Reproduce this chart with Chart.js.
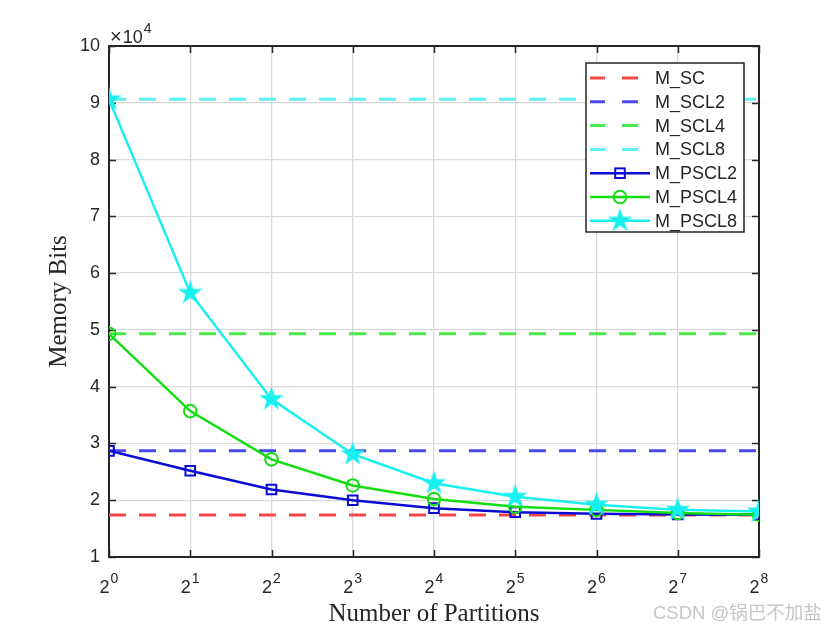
<!DOCTYPE html>
<html>
<head>
<meta charset="utf-8">
<script src="https://cdn.jsdelivr.net/npm/chart.js@4/dist/chart.umd.min.js"></script>
<style>
html,body{margin:0;padding:0;background:#fff;}
#c{display:block;}
</style>
</head>
<body>
<canvas id="c" width="840" height="630"></canvas>
<script>
// ---- data ----
const exponents = [0, 1, 2, 3, 4, 5, 6, 7, 8];
const xTickBase = '2';
const M_SC = 17400;
const M_SCL2 = 28700;
const M_SCL4 = 49300;
const M_SCL8 = 90600;
const M_PSCL2 = [28700, 25200, 21900, 20000, 18600, 17900, 17600, 17500, 17450];
const M_PSCL4 = [49300, 35700, 27200, 22600, 20200, 18850, 18300, 17750, 17450];
const M_PSCL8 = [90600, 56500, 37800, 28100, 23000, 20600, 19200, 18300, 18000];
const yTickValues = [10000, 20000, 30000, 40000, 50000, 60000, 70000, 80000, 90000, 100000];
const seriesNames = ['M_SC', 'M_SCL2', 'M_SCL4', 'M_SCL8', 'M_PSCL2', 'M_PSCL4', 'M_PSCL8'];
const xTitle = 'Number of Partitions';
const yTitle = 'Memory Bits';
const watermark = 'CSDN @锅巴不加盐';

// ---- styles ----
const SANS = '"Liberation Sans", Arial, sans-serif';
const SERIF = '"Liberation Serif", "Times New Roman", serif';
const AX = '#262626';

function starCanvas(color, R) {
  const s = Math.ceil(R * 2 + 4);
  const c = document.createElement('canvas');
  c.width = s; c.height = s;
  const g = c.getContext('2d');
  const cx = s / 2, cy = s / 2, r = R * 0.38;
  g.beginPath();
  for (let i = 0; i < 10; i++) {
    const rad = i % 2 === 0 ? R : r;
    const a = -Math.PI / 2 + i * Math.PI / 5;
    const px = cx + rad * Math.cos(a), py = cy + rad * Math.sin(a);
    if (i === 0) g.moveTo(px, py); else g.lineTo(px, py);
  }
  g.closePath();
  g.fillStyle = color; g.fill();
  g.strokeStyle = color; g.lineWidth = 1.5; g.stroke();
  return c;
}

const cRed = '#f04848', cBlueD = '#4a4aec', cGreenD = '#4be84b', cCyanD = '#5ef2f2';
const cBlue = '#0b0bd4', cGreen = '#12de12', cCyan = '#18f0f0';
const star = starCanvas(cCyan, 10.5);

const flat = v => [{x: exponents[0], y: v}, {x: exponents[exponents.length - 1], y: v}];
const pts = arr => exponents.map((e, i) => ({x: e, y: arr[i]}));

const dashStyle = (col) => ({borderColor: col, backgroundColor: col, borderWidth: 3, borderDash: [17, 13], pointRadius: 0, fill: false, tension: 0});

const datasets = [
  Object.assign({label: seriesNames[0], data: flat(M_SC), order: 6}, dashStyle(cRed)),
  Object.assign({label: seriesNames[1], data: flat(M_SCL2), order: 5}, dashStyle(cBlueD)),
  Object.assign({label: seriesNames[2], data: flat(M_SCL4), order: 4}, dashStyle(cGreenD)),
  Object.assign({label: seriesNames[3], data: flat(M_SCL8), order: 3}, dashStyle(cCyanD)),
  {label: seriesNames[4], data: pts(M_PSCL2), order: 2, borderColor: cBlue, backgroundColor: 'rgba(0,0,0,0)',
   borderWidth: 2.5, pointStyle: 'rect', pointRadius: 6.8, pointBorderWidth: 2, pointBorderColor: cBlue, tension: 0},
  {label: seriesNames[5], data: pts(M_PSCL4), order: 1, borderColor: cGreen, backgroundColor: 'rgba(0,0,0,0)',
   borderWidth: 2.5, pointStyle: 'circle', pointRadius: 6.3, pointBorderWidth: 2, pointBorderColor: cGreen, tension: 0},
  {label: seriesNames[6], data: pts(M_PSCL8), order: 0, borderColor: cCyan, backgroundColor: cCyan,
   borderWidth: 2.5, pointStyle: star, pointRadius: 10, tension: 0}
];

function drawMarker(ctx, ds, x, y) {
  ctx.save();
  if (ds.pointStyle === 'rect') {
    const h = 4.8;
    ctx.strokeStyle = ds.borderColor; ctx.lineWidth = 2;
    ctx.strokeRect(x - h, y - h, 2 * h, 2 * h);
  } else if (ds.pointStyle === 'circle') {
    ctx.strokeStyle = ds.borderColor; ctx.lineWidth = 2;
    ctx.beginPath(); ctx.arc(x, y, 6.3, 0, Math.PI * 2); ctx.stroke();
  } else if (ds.pointStyle instanceof HTMLCanvasElement) {
    ctx.drawImage(ds.pointStyle, x - ds.pointStyle.width / 2, y - ds.pointStyle.height / 2);
  }
  ctx.restore();
}

const decor = {
  id: 'decor',
  beforeDatasetsDraw(chart) {
    const ctx = chart.ctx, a = chart.chartArea;
    const xs = chart.scales.x, ys = chart.scales.y;
    ctx.save();
    ctx.strokeStyle = AX; ctx.lineWidth = 1.5;
    ctx.beginPath();
    xs.ticks.forEach(t => {
      const px = Math.round(xs.getPixelForValue(t.value)) + 0.5;
      ctx.moveTo(px, a.bottom); ctx.lineTo(px, a.bottom - 7);
      ctx.moveTo(px, a.top); ctx.lineTo(px, a.top + 7);
    });
    ys.ticks.forEach(t => {
      const py = Math.round(ys.getPixelForValue(t.value)) + 0.5;
      ctx.moveTo(a.left, py); ctx.lineTo(a.left + 7, py);
      ctx.moveTo(a.right, py); ctx.lineTo(a.right - 7, py);
    });
    ctx.stroke();
    ctx.lineWidth = 2;
    ctx.strokeRect(a.left, a.top, a.right - a.left, a.bottom - a.top);
    ctx.restore();
  },
  afterDraw(chart) {
    const ctx = chart.ctx, a = chart.chartArea;
    const xs = chart.scales.x;
    ctx.save();
    ctx.fillStyle = AX;
    // x tick labels 2^n
    xs.ticks.forEach(t => {
      const px = xs.getPixelForValue(t.value);
      const exp = String(t.value);
      ctx.font = '18px ' + SANS;
      const wb = ctx.measureText(xTickBase).width;
      ctx.font = '14px ' + SANS;
      const we = ctx.measureText(exp).width;
      const x0 = px - (wb + we + 1) / 2;
      ctx.textAlign = 'left'; ctx.textBaseline = 'alphabetic';
      ctx.font = '18px ' + SANS;
      ctx.fillText(xTickBase, x0, 593);
      ctx.font = '14px ' + SANS;
      ctx.fillText(exp, x0 + wb + 1, 583);
    });
    // x10^4
    ctx.textAlign = 'left';
    ctx.font = '20px ' + SANS;
    ctx.fillText('\u00d7', a.left + 1, 43);
    const wt = ctx.measureText('\u00d7').width;
    ctx.font = '18px ' + SANS;
    ctx.fillText('10', a.left + wt + 2, 43);
    const w10 = ctx.measureText('10').width;
    ctx.font = '14px ' + SANS;
    ctx.fillText('4', a.left + wt + w10 + 3, 33);
    // titles
    ctx.font = '25px ' + SERIF;
    ctx.textAlign = 'center';
    ctx.fillText(xTitle, (a.left + a.right) / 2, 621);
    ctx.save();
    ctx.translate(66, (a.top + a.bottom) / 2);
    ctx.rotate(-Math.PI / 2);
    ctx.fillText(yTitle, 0, 0);
    ctx.restore();
    // legend
    const lx = 586, ly = 63, lw = 158, lh = 169;
    ctx.fillStyle = '#fff';
    ctx.fillRect(lx, ly, lw, lh);
    ctx.strokeStyle = AX; ctx.lineWidth = 1.5;
    ctx.strokeRect(lx, ly, lw, lh);
    const rowH = 23.8;
    chart.data.datasets.forEach((ds, i) => {
      const cy = ly + 15 + i * rowH;
      ctx.save();
      ctx.strokeStyle = ds.borderColor; ctx.lineWidth = ds.borderWidth;
      if (ds.borderDash) {
        ctx.beginPath();
        ctx.moveTo(590, cy); ctx.lineTo(605, cy);
        ctx.moveTo(622, cy); ctx.lineTo(638, cy);
        ctx.stroke();
      } else {
        ctx.beginPath(); ctx.moveTo(590, cy); ctx.lineTo(650, cy); ctx.stroke();
        drawMarker(ctx, ds, 620, cy);
      }
      ctx.restore();
      ctx.fillStyle = AX;
      ctx.font = '18px ' + SANS;
      ctx.textAlign = 'left'; ctx.textBaseline = 'middle';
      ctx.fillText(ds.label, 655, cy + 1);
    });
    // watermark
    ctx.textBaseline = 'alphabetic';
    ctx.textAlign = 'left';
    ctx.fillStyle = '#c6c6c6';
    ctx.font = '18.5px "Liberation Sans", "Noto Sans CJK SC", sans-serif';
    ctx.fillText(watermark, 653, 619);
    ctx.restore();
  }
};

new Chart(document.getElementById('c'), {
  type: 'line',
  data: {datasets},
  options: {
    responsive: false,
    devicePixelRatio: 1,
    animation: false,
    layout: {padding: {top: 46, right: 81, left: 0, bottom: 0}},
    plugins: {legend: {display: false}, tooltip: {enabled: false}},
    scales: {
      x: {
        type: 'linear', min: 0, max: 8,
        ticks: {stepSize: 1, display: false},
        grid: {color: '#d9d9d9', lineWidth: 1.3, drawTicks: false},
        border: {display: false},
        afterFit(s) { s.height = 73; }
      },
      y: {
        type: 'linear', min: yTickValues[0], max: yTickValues[yTickValues.length - 1],
        afterBuildTicks(s) { s.ticks = yTickValues.map(v => ({value: v})); },
        ticks: {
          callback: v => String(v / 10000),
          font: {size: 18, family: SANS}, color: AX, padding: 9
        },
        grid: {color: '#d9d9d9', lineWidth: 1.3, drawTicks: false},
        border: {display: false},
        afterFit(s) { s.width = 109; }
      }
    }
  },
  plugins: [decor]
});
</script>
</body>
</html>
